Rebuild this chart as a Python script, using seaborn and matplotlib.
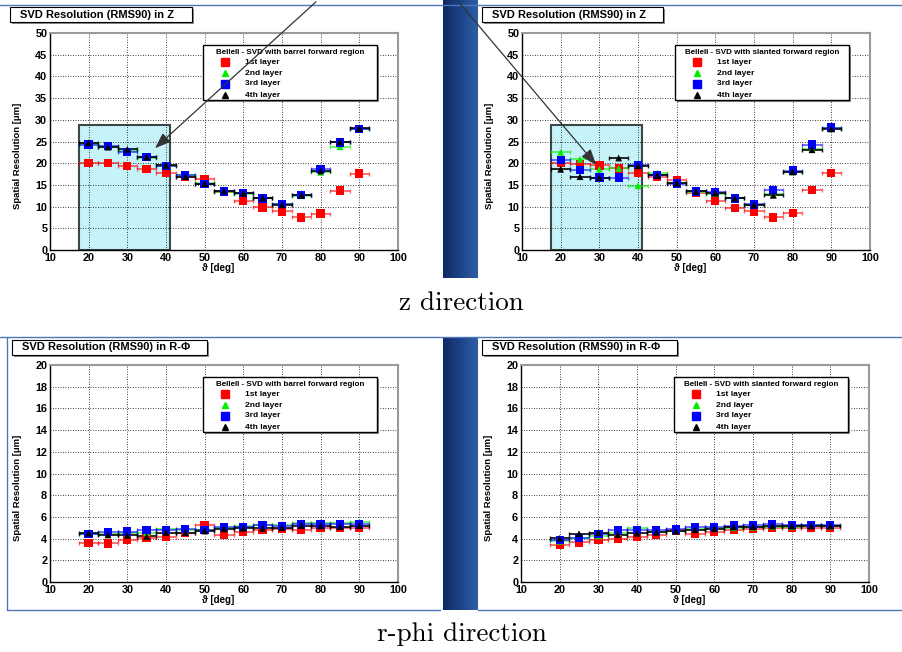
import numpy as np
import pandas as pd
import matplotlib
matplotlib.use("Agg")
import matplotlib.pyplot as plt
import seaborn as sns
from matplotlib.patches import Rectangle, FancyArrowPatch
from matplotlib.lines import Line2D
from matplotlib.ticker import MultipleLocator
from matplotlib.colors import LinearSegmentedColormap

# =========================
# DATA
# =========================

theta = [20, 25, 30, 35, 40, 45, 50, 55, 60, 65, 70, 75, 80, 85, 90]

layer_names = ["1st layer", "2nd layer", "3rd layer", "4th layer"]
layer_colors = ["#ff0000", "#00ee00", "#0000ff", "#000000"]
layer_markers = ["s", "^", "s", "^"]

# z direction, barrel forward region
z_barrel_l1 = [20.1, 20.1, 19.35, 18.7, 17.8, 16.9, 16.3, 13.3, 11.4, 9.8, 8.9, 7.5, 8.4, 13.7, 17.6]
z_barrel_l2 = [24.5, 23.8, 22.8, 21.3, 19.3, 17.2, 15.5, 13.4, 13.0, 11.9, 10.5, 12.5, 17.9, 23.8, 27.9]
z_barrel_l3 = [24.3, 24.0, 22.6, 21.5, 19.35, 17.3, 15.2, 13.5, 13.2, 11.9, 10.6, 12.6, 18.7, 24.8, 27.9]
z_barrel_l4 = [24.7, 23.7, 23.2, 21.4, 19.5, 16.9, 15.3, 13.6, 13.1, 12.0, 10.4, 12.6, 18.2, 24.9, 28.0]

# z direction, slanted forward region
z_slant_l1 = [20.1, 19.8, 19.5, 18.8, 17.8, 16.8, 16.1, 13.2, 11.4, 9.7, 8.9, 7.5, 8.5, 13.8, 17.7]
z_slant_l2 = [22.5, 20.9, 18.6, 18.8, 14.8, 17.7, 15.5, 13.4, 13.0, 12.0, 10.4, 12.8, 18.0, 23.3, 28.0]
z_slant_l3 = [20.8, 18.5, 16.7, 16.7, 19.6, 17.3, 15.3, 13.5, 13.3, 11.9, 10.5, 13.8, 18.3, 24.3, 28.2]
z_slant_l4 = [18.6, 16.9, 16.7, 21.2, 19.4, 17.2, 15.4, 13.5, 13.1, 11.9, 10.4, 12.6, 18.0, 23.1, 27.9]

# r-phi direction, barrel forward region
rphi_barrel_l1 = [3.6, 3.55, 3.85, 4.03, 4.15, 4.5, 5.26, 4.37, 4.58, 4.8, 4.9, 4.83, 5.0, 5.0, 5.0]
rphi_barrel_l2 = [4.4, 4.45, 4.5, 4.55, 4.85, 4.8, 4.8, 5.0, 5.15, 5.25, 5.25, 5.4, 5.45, 5.4, 5.55]
rphi_barrel_l3 = [4.4, 4.6, 4.65, 4.8, 4.8, 4.86, 4.8, 5.05, 5.08, 5.26, 5.17, 5.3, 5.3, 5.3, 5.3]
rphi_barrel_l4 = [4.5, 4.34, 4.3, 4.2, 4.55, 4.55, 4.7, 4.9, 4.95, 4.95, 5.0, 5.2, 5.17, 5.1, 5.2]

# r-phi direction, slanted forward region
rphi_slant_l1 = [3.45, 3.65, 3.85, 3.97, 4.15, 4.37, 4.75, 4.43, 4.58, 4.8, 4.9, 5.0, 4.95, 5.0, 5.0]
rphi_slant_l2 = [3.75, 4.1, 4.25, 4.5, 4.95, 4.65, 4.7, 4.85, 4.95, 5.0, 5.05, 5.1, 5.1, 5.25, 5.15]
rphi_slant_l3 = [3.85, 4.06, 4.45, 4.75, 4.8, 4.76, 4.85, 5.07, 5.04, 5.2, 5.25, 5.37, 5.28, 5.28, 5.28]
rphi_slant_l4 = [4.03, 4.45, 4.55, 4.37, 4.5, 4.58, 4.67, 4.82, 4.9, 5.07, 5.1, 5.16, 5.16, 5.16, 5.16]

bin_half_width = 2.5
highlight_theta = (17.5, 41.0)
highlight_res = 28.8

title_z = "SVD Resolution (RMS90) in Z"
title_rphi = "SVD Resolution (RMS90) in R-\u03a6"
header_barrel = "BelleII - SVD with barrel forward region"
header_slant = "BelleII - SVD with slanted forward region"

# =========================
# STYLE
# =========================

sns.set_theme(style="white", rc={"text.color": "black", "axes.labelcolor": "black",
                                 "xtick.color": "black", "ytick.color": "black"})
plt.rcParams["font.family"] = ["Liberation Sans", "DejaVu Sans"]
plt.rcParams["font.weight"] = "bold"

W, H = 903, 652
fig = plt.figure(figsize=(W / 100, H / 100), dpi=100)
fig.patch.set_facecolor("white")


def fx(px):
    return px / W


def fy(py):
    return 1 - py / H


# =========================
# SLIDE DECORATION
# =========================

strip_cmap = LinearSegmentedColormap.from_list("strip", ["#0e2a62", "#1c4488", "#2f5ea6"])
for top, bottom in [(0, 278), (338, 610)]:
    sax = fig.add_axes([fx(443), fy(bottom), fx(478) - fx(443), fy(top) - fy(bottom)])
    sax.imshow(np.linspace(0, 1, 64)[None, :], cmap=strip_cmap, aspect="auto")
    sax.axis("off")

frame_col = "#4f74b8"
for xs, ys in [((0, 903), (5, 5)), ((0, 903), (337, 337)),
               ((7, 7), (337, 610)), ((7, 440), (610, 610)), ((478, 903), (610, 610))]:
    fig.add_artist(Line2D([fx(xs[0]), fx(xs[1])], [fy(ys[0]), fy(ys[1])],
                          color=frame_col, lw=1.0, transform=fig.transFigure))

fig.text(fx(461), fy(310), "z direction", family="cmr10", fontweight="normal",
         fontsize=19.5, ha="center", va="baseline")
fig.text(fx(462), fy(641), "r-phi direction", family="cmr10", fontweight="normal",
         fontsize=19.5, ha="center", va="baseline")

# =========================
# PANELS
# =========================

panels = [
    dict(px=(50, 33, 398, 250), series=[z_barrel_l1, z_barrel_l2, z_barrel_l3, z_barrel_l4],
         ymax=50, ystep=5, yminor=1, title=title_z, tbox=(10, 7, 192, 22),
         header=header_barrel, highlight=True),
    dict(px=(522, 33, 870, 250), series=[z_slant_l1, z_slant_l2, z_slant_l3, z_slant_l4],
         ymax=50, ystep=5, yminor=1, title=title_z, tbox=(482, 7, 663, 22),
         header=header_slant, highlight=True),
    dict(px=(50, 365, 398, 582), series=[rphi_barrel_l1, rphi_barrel_l2, rphi_barrel_l3, rphi_barrel_l4],
         ymax=20, ystep=2, yminor=0.4, title=title_rphi, tbox=(12, 340, 207, 355),
         header=header_barrel, highlight=False),
    dict(px=(521, 365, 869, 582), series=[rphi_slant_l1, rphi_slant_l2, rphi_slant_l3, rphi_slant_l4],
         ymax=20, ystep=2, yminor=0.4, title=title_rphi, tbox=(482, 340, 677, 355),
         header=header_slant, highlight=False),
]

palette = dict(zip(layer_names, layer_colors))
markers = dict(zip(layer_names, layer_markers))
sizes = dict(zip(layer_names, [36, 24, 36, 24]))

for p in panels:
    x0, y0, x1, y1 = p["px"]
    ax = fig.add_axes([fx(x0), fy(y1), fx(x1) - fx(x0), fy(y0) - fy(y1)])
    ax.set_facecolor("white")
    ax.set_xlim(10, 100)
    ax.set_ylim(0, p["ymax"])

    if p["highlight"]:
        ax.add_patch(Rectangle((highlight_theta[0], 0), highlight_theta[1] - highlight_theta[0],
                               highlight_res, facecolor="#c6f3f9", edgecolor="#3c4848",
                               lw=1.5, zorder=0.3))

    df = pd.DataFrame({
        "theta": theta * 4,
        "res": [v for s in p["series"] for v in s],
        "layer": [n for n in layer_names for _ in theta],
    })

    for name, color in zip(layer_names, layer_colors):
        sub = df[df["layer"] == name]
        ax.errorbar(sub["theta"], sub["res"], xerr=bin_half_width, fmt="none",
                    ecolor=color, elinewidth=1.3, capsize=1.5, capthick=1.0,
                    alpha=0.9 if name == "4th layer" else 0.6, zorder=2)

    sns.scatterplot(data=df, x="theta", y="res", hue="layer", style="layer", size="layer",
                    palette=palette, markers=markers, sizes=sizes, linewidth=0,
                    legend=False, ax=ax, zorder=3)

    # axes like ROOT
    ax.xaxis.set_major_locator(MultipleLocator(10))
    ax.xaxis.set_minor_locator(MultipleLocator(2))
    ax.yaxis.set_major_locator(MultipleLocator(p["ystep"]))
    ax.yaxis.set_minor_locator(MultipleLocator(p["yminor"]))
    ax.tick_params(which="both", direction="in", top=False, right=False,
                   color="black", width=0.8, labelsize=7.8, pad=2)
    ax.tick_params(which="major", length=5.5)
    ax.tick_params(which="minor", length=2.8)
    ax.grid(True, which="major", color="black", linestyle=(0, (1, 2)), linewidth=0.6)
    ax.set_axisbelow(True)
    for side in ["left", "bottom"]:
        ax.spines[side].set_color("black")
        ax.spines[side].set_linewidth(1.0)
    for side in ["top", "right"]:
        ax.spines[side].set_color("#9a9a9a")
        ax.spines[side].set_linewidth(1.5)

    ax.set_xlabel("\u03d1 [deg]", fontsize=7, fontweight="bold")
    ax.set_ylabel("Spatial Resolution [\u03bcm]", fontsize=6.8, fontweight="bold")
    ax.xaxis.set_label_coords(0.483, -0.062)
    ax.yaxis.set_label_coords(-0.08, 0.435)

    # legend box
    ax.add_patch(Rectangle((0.446, 0.68), 0.5, 0.255, transform=ax.transAxes,
                           facecolor="#8a8a8a", edgecolor="none", zorder=5, clip_on=False))
    ax.add_patch(Rectangle((0.44, 0.69), 0.5, 0.255, transform=ax.transAxes,
                           facecolor="white", edgecolor="black", lw=1.0, zorder=6, clip_on=False))
    ax.text(0.69, 0.912, p["header"], transform=ax.transAxes, ha="center", va="center",
            fontsize=5.8, fontweight="bold", zorder=7)
    for name, color, mk, ky in zip(layer_names, layer_colors, layer_markers,
                                   [0.865, 0.814, 0.765, 0.714]):
        ax.plot([0.503], [ky], marker=mk, color=color, markersize=5.5 if mk == "s" else 4.2,
                linestyle="none", transform=ax.transAxes, clip_on=False, zorder=7)
        ax.text(0.56, ky, name, transform=ax.transAxes, ha="left", va="center",
                fontsize=6, fontweight="bold", zorder=7)

    # title box
    bx0, by0, bx1, by1 = p["tbox"]
    fig.add_artist(Rectangle((fx(bx0 + 2), fy(by1 + 2)), fx(bx1) - fx(bx0), fy(by0) - fy(by1),
                             transform=fig.transFigure, facecolor="#8a8a8a", edgecolor="none"))
    fig.add_artist(Rectangle((fx(bx0), fy(by1)), fx(bx1) - fx(bx0), fy(by0) - fy(by1),
                             transform=fig.transFigure, facecolor="white", edgecolor="black", lw=0.8))
    fig.text(fx(bx0 + 10), fy((by0 + by1) / 2), p["title"], ha="left", va="center",
             fontsize=8, fontweight="bold")

# =========================
# CALLOUT ARROWS
# =========================

for start, tip in [((318, 0), (153, 150)), ((457, 0), (598, 167))]:
    fig.add_artist(FancyArrowPatch((fx(start[0]), fy(start[1])), (fx(tip[0]), fy(tip[1])),
                                   transform=fig.transFigure,
                                   arrowstyle="-|>,head_length=0.8,head_width=0.3",
                                   mutation_scale=12, color="#333333", lw=0.9, zorder=10))

fig.savefig("out.png", dpi=100)
